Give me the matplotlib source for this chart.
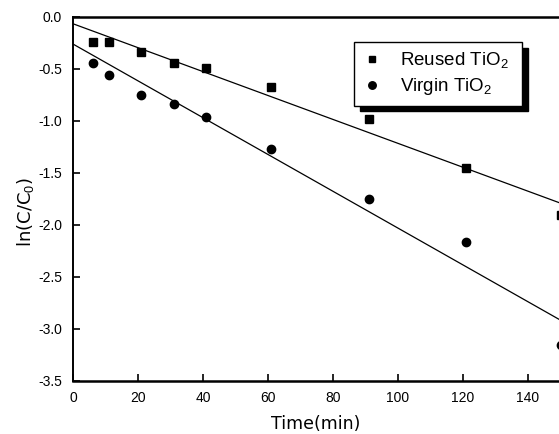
import matplotlib
matplotlib.use("Agg")
import matplotlib.pyplot as plt
import numpy as np

# Data
time_reused = [6, 11, 21, 31, 41, 61, 91, 121, 150]
ln_reused = [-0.24, -0.24, -0.34, -0.44, -0.49, -0.67, -0.98, -1.455, -1.90]
time_virgin = [6, 11, 21, 31, 41, 61, 91, 121, 150]
ln_virgin = [-0.44, -0.56, -0.75, -0.84, -0.96, -1.27, -1.75, -2.16, -3.15]
# fitted lines (intercept, slope)
fit_reused = (-0.065, -0.0115)
fit_virgin = (-0.26, -0.0177)

x_ticks = [0, 20, 40, 60, 80, 100, 120, 140]
y_ticks = [0.0, -0.5, -1.0, -1.5, -2.0, -2.5, -3.0, -3.5]

FONT = 'Liberation Sans'
LFONT = 'DejaVu Sans'
plt.rcParams['mathtext.fontset'] = 'custom'
plt.rcParams['mathtext.rm'] = FONT
plt.rcParams['mathtext.it'] = FONT

W, H = 559, 434
fig = plt.figure(figsize=(W / 100, H / 100), dpi=100)
ax = fig.add_axes([73 / W, 1 - 381 / H, 520 / W, 364 / H])
ax.set_xlim(0, 160)
ax.set_ylim(-3.5, 0.0)

xl = np.array([0, 160])
ax.plot(xl, fit_reused[0] + fit_reused[1] * xl, color='black', lw=0.9)
ax.plot(xl, fit_virgin[0] + fit_virgin[1] * xl, color='black', lw=0.9)
ax.plot(time_reused, ln_reused, 's', color='black', ms=5.2, clip_on=False,
        label='Reused TiO$_2$')
ax.plot(time_virgin, ln_virgin, 'o', color='black', ms=6.0, clip_on=False,
        label='Virgin TiO$_2$')

ax.set_xticks(x_ticks)
ax.set_yticks(y_ticks)
ax.set_yticklabels([f"{v:.1f}" for v in y_ticks])
ax.tick_params(direction='in', length=5, width=1.2, labelsize=10)
ax.tick_params(axis='y', pad=8)
ax.tick_params(axis='x', pad=7)
for lab in ax.get_xticklabels() + ax.get_yticklabels():
    lab.set_fontfamily(FONT)

for s in ['top', 'bottom']:
    ax.spines[s].set_linewidth(1.8)
ax.spines['left'].set_linewidth(1.4)
ax.spines['right'].set_linewidth(1.4)

ax.set_xlabel('Time(min)', fontsize=12.5, family=LFONT)
ax.xaxis.set_label_coords((316 - 73) / 520, -(415 - 381) / 364)
ax.xaxis.label.set_va('top')
ax.set_ylabel('ln(C/C$_0$)', fontsize=13, family=LFONT)
ax.yaxis.set_label_coords((25 - 73) / 520, (381 - 212) / 364)
ax.yaxis.label.set_va('center')

leg = ax.legend(loc='upper left',
                bbox_to_anchor=(354 / W, 1 - 105 / H, 168 / W, 63 / H),
                bbox_transform=fig.transFigure, borderaxespad=0, mode='expand',
                fancybox=False, edgecolor='black', framealpha=1,
                prop={'family': FONT, 'size': 13.5},
                handlelength=1.0, handletextpad=1.0, borderpad=0.45,
                labelspacing=0.3, markerscale=0.9,
                shadow={'ox': 4, 'oy': -4, 'color': 'black', 'alpha': 1})
leg.get_frame().set_linewidth(1.0)

fig.savefig('out.png', dpi=100)
